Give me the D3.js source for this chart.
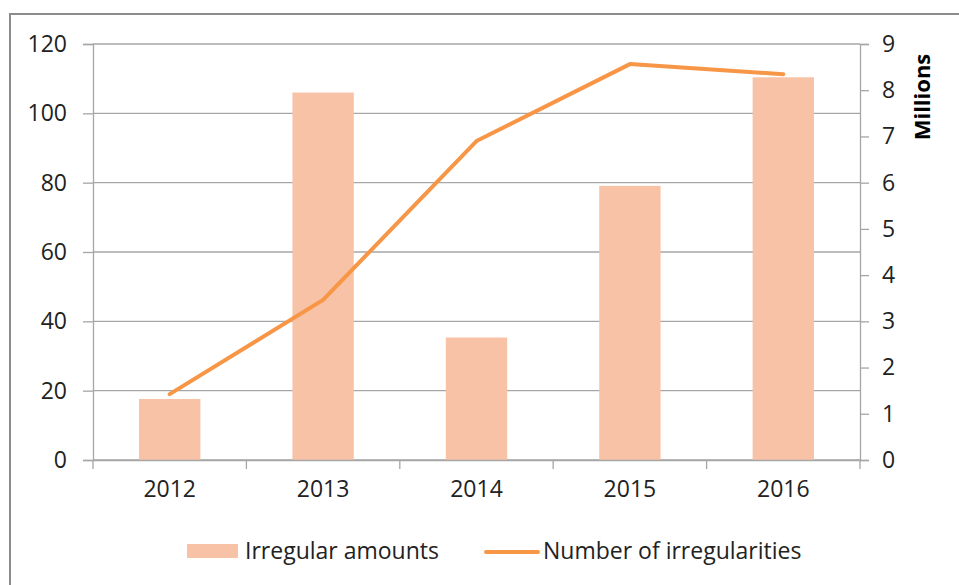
<!DOCTYPE html>
<html>
<head>
<meta charset="utf-8">
<script src="https://cdn.jsdelivr.net/npm/d3@7"></script>
<style>
  body { margin: 0; background: #fff; }
  text { font-family: "Open Sans", sans-serif; fill: #222; }
</style>
</head>
<body>
<div id="chart"></div>
<script>
const years = ["2012", "2013", "2014", "2015", "2016"];
const irregularAmounts = [1.32, 7.95, 2.65, 5.93, 8.28];      // millions, right axis
const irregularityCounts = [19, 46.2, 92, 114.2, 111.3];     // left axis
const leftTicks = [0, 20, 40, 60, 80, 100, 120];
const rightTicks = [0, 1, 2, 3, 4, 5, 6, 7, 8, 9];

const width = 959, height = 585;
const plotLeft = 93, plotRight = 860, plotTop = 44, plotBottom = 460;

const svg = d3.select("#chart").append("svg")
  .attr("width", width)
  .attr("height", height);

// chart area border
svg.append("rect")
  .attr("x", 10).attr("y", 14)
  .attr("width", 970).attr("height", 600)
  .attr("fill", "none")
  .attr("stroke", "#8c8c8c")
  .attr("stroke-width", 2);

const x = d3.scaleBand().domain(years).range([plotLeft, plotRight]).padding(0);
const yLeft = d3.scaleLinear().domain([0, 120]).range([plotBottom, plotTop]);
const yRight = d3.scaleLinear().domain([0, 9]).range([plotBottom, plotTop]);

// gridlines
svg.append("g")
  .selectAll("line")
  .data(leftTicks)
  .enter()
  .append("line")
  .attr("x1", plotLeft).attr("x2", plotRight)
  .attr("y1", d => yLeft(d)).attr("y2", d => yLeft(d))
  .attr("stroke", "#a6a6a6")
  .attr("stroke-width", 1.3);

// bars
const barW = x.bandwidth() * 0.4;
svg.append("g")
  .selectAll("rect")
  .data(irregularAmounts)
  .enter()
  .append("rect")
  .attr("x", (d, i) => x(years[i]) + x.bandwidth() / 2 - barW / 2)
  .attr("y", d => yRight(d))
  .attr("width", barW)
  .attr("height", d => plotBottom - yRight(d))
  .attr("fill", "#f8c2a6");

// left axis
const leftAxis = svg.append("g")
  .attr("transform", `translate(${plotLeft},0)`)
  .call(d3.axisLeft(yLeft).tickValues(leftTicks).tickSize(10).tickPadding(16));
leftAxis.selectAll("text").style("font-size", "23px");

// right axis
const rightAxis = svg.append("g")
  .attr("transform", `translate(${plotRight},0)`)
  .call(d3.axisRight(yRight).tickValues(rightTicks).tickSize(9).tickPadding(13));
rightAxis.selectAll("text").style("font-size", "23px");

// bottom axis
const bottomAxis = svg.append("g")
  .attr("transform", `translate(0,${plotBottom})`)
  .call(d3.axisBottom(x).tickSize(0).tickPadding(21));
bottomAxis.selectAll("text").style("font-size", "23px");
bottomAxis.selectAll(".tick line").remove();

// category boundary ticks
svg.append("g")
  .selectAll("line")
  .data(years.map(y => x(y)).concat([plotRight]))
  .enter()
  .append("line")
  .attr("x1", d => d).attr("x2", d => d)
  .attr("y1", plotBottom).attr("y2", plotBottom + 9)
  .attr("stroke", "#a6a6a6")
  .attr("stroke-width", 1.3);

svg.selectAll(".domain").attr("stroke", "#a6a6a6").attr("stroke-width", 1.3);
svg.selectAll(".tick line").attr("stroke", "#a6a6a6").attr("stroke-width", 1.3);

// line
const line = d3.line()
  .x((d, i) => x(years[i]) + x.bandwidth() / 2)
  .y(d => yLeft(d));

svg.append("path")
  .datum(irregularityCounts)
  .attr("d", line)
  .attr("fill", "none")
  .attr("stroke", "#f79646")
  .attr("stroke-width", 4)
  .attr("stroke-linecap", "round")
  .attr("stroke-linejoin", "round");

// right axis title
svg.append("text")
  .attr("transform", "translate(930,97) rotate(-90)")
  .attr("text-anchor", "middle")
  .style("font-size", "22px")
  .style("font-weight", "bold")
  .style("fill", "#000")
  .text("Millions");

// legend
const legend = svg.append("g");
legend.append("rect")
  .attr("x", 187).attr("y", 544)
  .attr("width", 51).attr("height", 14)
  .attr("fill", "#f8c2a6");
legend.append("text")
  .attr("x", 245).attr("y", 559)
  .style("font-size", "23px")
  .text("Irregular amounts");
legend.append("line")
  .attr("x1", 486).attr("x2", 538)
  .attr("y1", 552).attr("y2", 552)
  .attr("stroke", "#f79646")
  .attr("stroke-width", 4)
  .attr("stroke-linecap", "round");
legend.append("text")
  .attr("x", 543).attr("y", 559)
  .style("font-size", "23px")
  .text("Number of irregularities");
</script>
</body>
</html>
